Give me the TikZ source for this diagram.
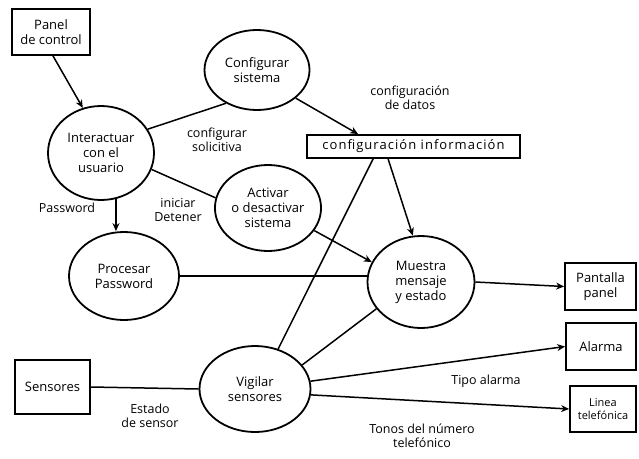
\documentclass[tikz,border=0pt]{standalone}
\usepackage{fontspec}
\setmainfont{Open Sans}
\usetikzlibrary{shapes.geometric,arrows.meta,calc}
\begin{document}
\begin{tikzpicture}[x=1pt,y=-1pt,
  every node/.style={font=\fontsize{13}{15}\selectfont, align=center, inner sep=1pt},
  proc/.style={draw, ellipse, line width=1.8pt},
  ext/.style={draw, rectangle, line width=1.8pt},
  flow/.style={line width=1.5pt},
  arr/.style={flow, -{Stealth[length=8pt,width=7pt]}},
  lbl/.style={font=\fontsize{12.5}{14}\selectfont}]
\useasboundingbox[fill=white] (0,0) rectangle (639,458);

% external entities
\node[ext, minimum width=78pt, minimum height=46pt] (panel) at (51,32) {Panel\\de control};
\node[ext, minimum width=75pt, minimum height=54pt] (sens) at (52.5,387) {Sensores};
\node[ext, minimum width=71pt, minimum height=47pt] (pant) at (600.5,286.5) {Pantalla\\panel};
\node[ext, minimum width=70pt, minimum height=47pt] (alar) at (601,346.5) {Alarma};
\node[ext, minimum width=66pt, minimum height=46pt, font=\fontsize{11}{13}\selectfont] (linea) at (603,409) {Linea\\telefónica};
\node[ext, minimum width=213pt, minimum height=23pt, inner sep=0pt, font=\fontsize{13}{15}\selectfont\addfontfeature{LetterSpace=8}] (info) at (413.5,146.5) {configuración información};

% processes
\node[proc, minimum width=106pt, minimum height=94pt] (inter) at (101,153) {Interactuar\\con el\\usuario};
\node[proc, minimum width=105pt, minimum height=80pt] (conf) at (257,70) {Configurar\\sistema};
\node[proc, minimum width=101pt, minimum height=86pt] (activ) at (268,208) {Activar\\o desactivar\\sistema};
\node[proc, minimum width=110pt, minimum height=88pt] (procp) at (124,276) {Procesar\\Password};
\node[proc, minimum width=107pt, minimum height=92pt] (muest) at (421,282) {Muestra\\mensaje\\y estado};
\node[proc, minimum width=111pt, minimum height=86pt] (vigil) at (255,389) {Vigilar\\sensores};

% connectors
\draw[arr] ([xshift=2pt]panel.south) -- (inter.112);
\draw[flow] (inter.27) -- (conf.-133);
\draw[arr] (conf.-36) -- ([xshift=52pt]info.north west);
\draw[flow] (inter.-18) -- (activ.169);
\draw[arr] (inter.-72) -- (procp.north -| inter.-72);
\draw[arr] (activ.-26) -- (muest.158);
\draw[arr] ([xshift=82pt]info.south west) -- (muest.100);
\draw[flow] ([xshift=67pt]info.south west) -- (vigil.60);
\draw[flow] (procp.east) -- (procp.east -| muest.west);
\draw[arr] (muest.east) -- (pant.west);
\draw[flow] (vigil.27) -- (muest.-149);
\draw[arr] (vigil.8) -- (alar.west);
\draw[arr] (vigil.-6) -- (linea.west);
\draw[flow] (sens.east) -- (vigil.west);

% labels
\node[lbl] (l1) at (217,140) {configurar\\solicitiva};
\node[lbl] (l2) at (410,98) {configuración\\de datos};
\node[lbl] (l3) at (67,208) {Password};
\node[lbl] (l4) at (178,210) {iniciar\\Detener};
\node[lbl] (l5) at (486,381) {Tipo alarma};
\node[lbl] (l6) at (422,436) {Tonos del número\\telefónico};
\node[lbl] (l7) at (150,416) {Estado\\de sensor};
\end{tikzpicture}
\end{document}
